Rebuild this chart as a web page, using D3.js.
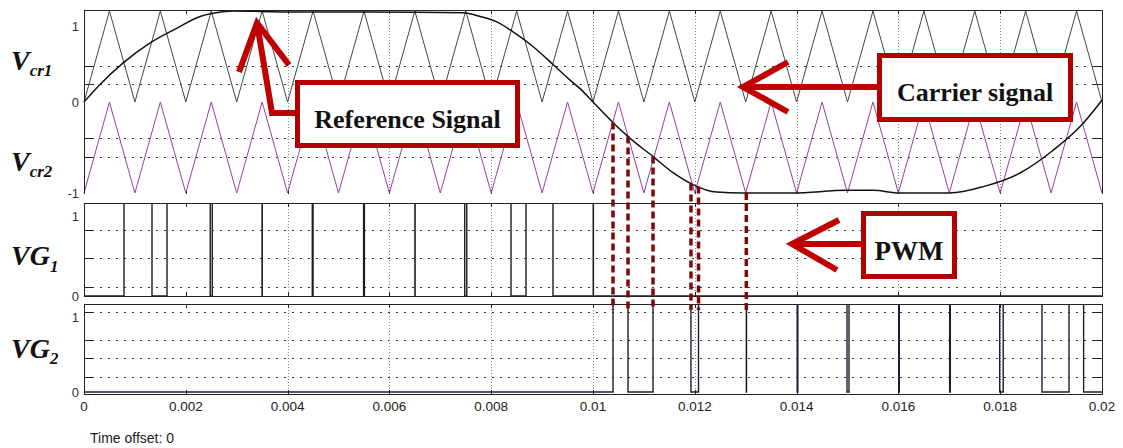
<!DOCTYPE html>
<html>
<head>
<meta charset="utf-8">
<script src="https://cdn.jsdelivr.net/npm/d3@7"></script>
<style>
  body { margin: 0; background: #fff; }
  svg { display: block; }
</style>
</head>
<body>
<svg id="chart"></svg>
<script>
// ---- data ----
const timeTicks = [0, 0.002, 0.004, 0.006, 0.008, 0.01, 0.012, 0.014, 0.016, 0.018, 0.02];
const timeTickLabels = ["0", "0.002", "0.004", "0.006", "0.008", "0.01", "0.012", "0.014", "0.016", "0.018", "0.02"];
const timeGrid = [0.004, 0.006, 0.008, 0.01, 0.012, 0.014, 0.016, 0.018];

// carrier vertices (1 kHz triangle)
const carrierTimes = [0, 0.0005, 0.001, 0.0015, 0.002, 0.0025, 0.003, 0.0035, 0.004, 0.0045,
  0.005, 0.0055, 0.006, 0.0065, 0.007, 0.0075, 0.008, 0.0085, 0.009, 0.0095,
  0.01, 0.0105, 0.011, 0.0115, 0.012, 0.0125, 0.013, 0.0135, 0.014, 0.0145,
  0.015, 0.0155, 0.016, 0.0165, 0.017, 0.0175, 0.018, 0.0185, 0.019, 0.0195, 0.02];
const carrier1 = [0, 1, 0, 1, 0, 1, 0, 1, 0, 1, 0, 1, 0, 1, 0, 1, 0, 1, 0, 1,
  0, 1, 0, 1, 0, 1, 0, 1, 0, 1, 0, 1, 0, 1, 0, 1, 0, 1, 0, 1, 0];
const carrier2 = [-1, 0, -1, 0, -1, 0, -1, 0, -1, 0, -1, 0, -1, 0, -1, 0, -1, 0, -1, 0,
  -1, 0, -1, 0, -1, 0, -1, 0, -1, 0, -1, 0, -1, 0, -1, 0, -1, 0, -1, 0, -1];

// reference signal samples
const refTimes = [0, 0.00031, 0.00077, 0.0013, 0.00182, 0.00228, 0.00248, 0.00293, 0.004, 0.0056,
  0.00745, 0.00778, 0.00811, 0.00843, 0.00882, 0.00922, 0.00955, 0.00974, 0.01, 0.0104,
  0.01069, 0.01118, 0.01158, 0.01197, 0.01243, 0.01295, 0.01393, 0.01498, 0.0155, 0.01603,
  0.01701, 0.01767, 0.01839, 0.01904, 0.01957, 0.02];
const refValues = [0, 0.19, 0.43, 0.65, 0.81, 0.94, 0.97, 1.0, 0.99, 0.99,
  0.98, 0.94, 0.88, 0.77, 0.61, 0.41, 0.24, 0.15, 0, -0.23,
  -0.38, -0.6, -0.78, -0.91, -0.99, -1.0, -1.0, -0.97, -0.97, -1.0,
  -1.0, -0.93, -0.78, -0.53, -0.27, 0.02];

// gate signals: switching instants, both start low
const vg1Switch = [0.000786, 0.001336, 0.001631, 0.00248, 0.00252, 0.003498, 0.003502,
  0.004485, 0.0045, 0.005493, 0.005509, 0.006501, 0.006505, 0.00748, 0.00752,
  0.008389, 0.008684, 0.009214, 0.010004, 0.010008];
const vg2Switch = [0.010393, 0.010688, 0.011179, 0.011925, 0.012073, 0.013012, 0.013016,
  0.014012, 0.014024, 0.01499, 0.01503, 0.016006, 0.016018, 0.017008, 0.01702,
  0.01799, 0.018059, 0.018821, 0.019352, 0.019639];

const topTicks = [1, 0, -1];
const topTickLabels = ["1", "0", "-1"];
const gateTicks = [1, 0];
const gateTickLabels = ["1", "0"];
const topGrid = [0.4, 0.2, -0.4, -0.6];
const vg1Grid = [0.7, 0.4, 0.1];
const vg2Grid = [0.89, 0.58, 0.38, 0.17];

// ---- layout ----
const W = 1123, H = 448;
const left = 84, right = 1102;
const svg = d3.select("#chart").attr("width", W).attr("height", H);

const x = d3.scaleLinear().domain([0, 0.02]).range([left, right]);

// gate panels: the high level sits just above the frame, as on the scope
const panels = [
  { name: "top", top: 10, bottom: 194, y: d3.scaleLinear().domain([-1, 1]).range([193, 11]),
    grid: topGrid, ticks: topTicks, labels: topTickLabels, openBottom: true },
  { name: "vg1", top: 203, bottom: 296, y: d3.scaleLinear().domain([0, 1]).range([296, 201]),
    grid: vg1Grid, ticks: gateTicks, labels: gateTickLabels },
  { name: "vg2", top: 304, bottom: 394, y: d3.scaleLinear().domain([0, 1]).range([392, 302]),
    grid: vg2Grid, ticks: gateTicks, labels: gateTickLabels }
];

const crisp = v => Math.round(v) + 0.5;
const defs = svg.append("defs");

panels.forEach(p => {
  const g = svg.append("g").attr("class", "panel-" + p.name);
  defs.append("clipPath").attr("id", "clip-" + p.name)
    .append("rect").attr("x", left).attr("y", p.top + 1)
    .attr("width", right - left + 1).attr("height", p.bottom - p.top + 2);

  // horizontal dotted grid
  g.append("g").selectAll("line").data(p.grid).join("line")
    .attr("x1", left).attr("x2", right)
    .attr("y1", d => crisp(p.y(d))).attr("y2", d => crisp(p.y(d)))
    .attr("stroke", "#333").attr("stroke-dasharray", "1.5,6.5")
    .attr("shape-rendering", "crispEdges");

  // vertical dotted grid
  g.append("g").selectAll("line").data(timeGrid).join("line")
    .attr("x1", d => crisp(x(d))).attr("x2", d => crisp(x(d)))
    .attr("y1", p.top).attr("y2", p.bottom)
    .attr("stroke", "#8a8a8a").attr("stroke-dasharray", "1,2")
    .attr("shape-rendering", "crispEdges");

  // inner y tick marks on both sides
  g.append("g").selectAll("path").data(p.grid).join("path")
    .attr("d", d => `M${left},${crisp(p.y(d))}h9M${right},${crisp(p.y(d))}h-9`)
    .attr("stroke", "#222").attr("shape-rendering", "crispEdges");

  // inner x tick marks top and bottom
  g.append("g").selectAll("path").data(timeTicks).join("path")
    .attr("d", d => `M${crisp(x(d))},${p.top}v4M${crisp(x(d))},${p.bottom}v-4`)
    .attr("stroke", "#222").attr("shape-rendering", "crispEdges");

  // y tick labels (top label tucked under the frame edge)
  g.append("g").selectAll("text").data(p.ticks).join("text")
    .attr("x", 79)
    .attr("y", d => p.y(d))
    .attr("dy", (d, i) => i === 0 ? "1.5em" : "0.35em")
    .attr("text-anchor", "end")
    .attr("font-family", "'Liberation Sans', Arial, sans-serif")
    .attr("font-size", 13)
    .attr("fill", "#333")
    .text((d, i) => p.labels[i]);
  p.g = g;
  p.plot = g.append("g").attr("clip-path", `url(#clip-${p.name})`);
});

// ---- top panel traces ----
const topPanel = panels[0];
const tri = d3.line().x((d, i) => x(carrierTimes[i])).y(d => topPanel.y(d));
topPanel.g.append("path").datum(carrier1).attr("d", tri)
  .attr("fill", "none").attr("stroke", "#3e4a3e").attr("stroke-width", 1);
topPanel.g.append("path").datum(carrier2).attr("d", tri)
  .attr("fill", "none").attr("stroke", "#9b3c9f").attr("stroke-width", 1);

const refLine = d3.line().curve(d3.curveMonotoneX)
  .x((d, i) => x(refTimes[i])).y(d => topPanel.y(d));
topPanel.g.append("path").datum(refValues).attr("d", refLine)
  .attr("fill", "none").attr("stroke", "#111").attr("stroke-width", 1.5);

// ---- gate signals ----
function steps(switches) {
  let level = 0;
  const pts = [[0, level]];
  switches.forEach(t => { pts.push([t, level]); level = 1 - level; pts.push([t, level]); });
  pts.push([0.02, level]);
  return pts;
}
[[panels[1], vg1Switch, "#1c1c24"], [panels[2], vg2Switch, "#1c1c33"]].forEach(([p, sw, col]) => {
  const line = d3.line().x(d => x(d[0])).y(d => p.y(d[1]));
  p.plot.append("path").datum(steps(sw)).attr("d", line)
    .attr("fill", "none").attr("stroke", col).attr("stroke-width", 1.4);
});

// ---- frames ----
panels.forEach(p => {
  const d = p.openBottom
    ? `M${left + 0.5},${p.bottom}V${p.top + 0.5}H${right + 0.5}V${p.bottom}`
    : `M${left + 0.5},${p.top + 0.5}H${right + 0.5}V${p.bottom + 0.5}H${left + 0.5}Z`;
  p.g.append("path").attr("d", d).attr("fill", "none")
    .attr("stroke", "#222").attr("stroke-width", 1).attr("shape-rendering", "crispEdges");
});

// ---- x axis labels ----
svg.append("g").selectAll("text").data(timeTicks).join("text")
  .attr("x", d => x(d)).attr("y", 411)
  .attr("text-anchor", "middle")
  .attr("font-family", "'Liberation Sans', Arial, sans-serif")
  .attr("font-size", 13.5).attr("fill", "#222")
  .text((d, i) => timeTickLabels[i]);

svg.append("text").attr("x", 90).attr("y", 443)
  .attr("font-family", "'Liberation Sans', Arial, sans-serif")
  .attr("font-size", 14).attr("fill", "#222")
  .text("Time offset: 0");

// ---- row titles ----
const titles = [
  { main: "V", sub: "cr1", y: 70, dy: 6 },
  { main: "V", sub: "cr2", y: 171, dy: 6 },
  { main: "VG", sub: "1", y: 265, dy: 7 },
  { main: "VG", sub: "2", y: 358, dy: 6 }
];
titles.forEach(t => {
  const txt = svg.append("text").attr("x", 11).attr("y", t.y)
    .attr("font-family", "'Liberation Serif', 'Times New Roman', serif")
    .attr("font-weight", "bold").attr("font-style", "italic")
    .attr("font-size", 28).attr("fill", "#111");
  txt.append("tspan").text(t.main);
  txt.append("tspan").attr("dy", t.dy).attr("font-size", 17).text(t.sub);
});

// ---- dashed markers linking reference crossings to VG2 edges ----
function refAt(t) {
  const i = Math.max(1, d3.bisectLeft(refTimes, t));
  const t0 = refTimes[i - 1], t1 = refTimes[i];
  const k = (t - t0) / (t1 - t0);
  return refValues[i - 1] + k * (refValues[i] - refValues[i - 1]);
}
const markerTimes = vg2Switch.slice(0, 6);
svg.append("g").selectAll("line").data(markerTimes).join("line")
  .attr("x1", d => x(d)).attr("x2", d => x(d))
  .attr("y1", d => topPanel.y(refAt(d))).attr("y2", panels[2].top + 6)
  .attr("stroke", "#7d0a0a").attr("stroke-width", 3.5)
  .attr("stroke-dasharray", "7,4");

// ---- annotations ----
const red = "#c00000";
const notes = [
  { text: "Reference Signal", box: [295, 80, 520, 148], base: 128, size: 26,
    lines: [[[239, 72], [257, 23], [289, 65]], [[257, 23], [272, 113], [297, 113]]] },
  { text: "Carrier signal", box: [877, 53, 1073, 122], base: 101, size: 26,
    lines: [[[788, 62], [743, 87], [788, 112]], [[743, 87], [879, 87]]] },
  { text: "PWM", box: [861, 211, 957, 279], base: 260, size: 27,
    lines: [[[839, 220], [792, 244], [837, 270]], [[792, 244], [863, 244]]] }
];
const ann = svg.append("g");
notes.forEach(n => {
  n.lines.forEach(pts => {
    ann.append("path").attr("d", d3.line()(pts))
      .attr("fill", "none").attr("stroke", red).attr("stroke-width", 6)
      .attr("stroke-linejoin", "miter");
  });
  const [x0, y0, x1, y1] = n.box;
  ann.append("rect").attr("x", x0 + 2.5).attr("y", y0 + 2.5)
    .attr("width", x1 - x0 - 5).attr("height", y1 - y0 - 5)
    .attr("fill", "#fff").attr("stroke", "#b00000").attr("stroke-width", 5);
  ann.append("text").attr("x", (x0 + x1) / 2).attr("y", n.base)
    .attr("text-anchor", "middle")
    .attr("font-family", "'Liberation Serif', 'Times New Roman', serif")
    .attr("font-weight", "bold").attr("font-size", n.size).attr("fill", "#111")
    .text(n.text);
});
</script>
</body>
</html>
